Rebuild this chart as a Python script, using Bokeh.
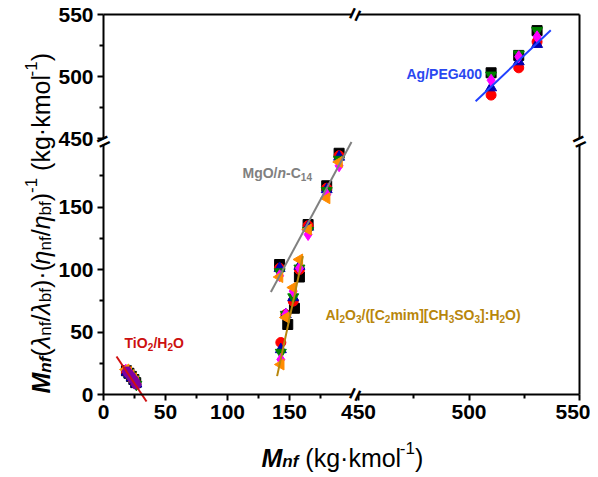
import math
from bokeh.plotting import figure
from bokeh.models import Range1d, LinearAxis, FixedTicker, Label
from bokeh.embed import file_html
from bokeh.resources import INLINE

# ---------------- axis segments and ticks ----------------
x_lo_seg = (0, 200)
x_hi_seg = (450, 550)
y_lo_seg = (0, 200)
y_hi_seg = (450, 550)
x_lo_ticks = [0, 50, 100, 150]
x_lo_minor = [25, 75, 125, 175]
x_hi_ticks = [450, 500, 550]
x_hi_minor = [475, 525]
y_lo_ticks = [0, 50, 100, 150]
y_lo_minor = [25, 75, 125, 175]
y_hi_ticks = [450, 500, 550]
y_hi_minor = [475, 525]

# ---------------- data ----------------
# TiO2/H2O
tio2_sq_x = [18.5, 20.5, 22.5, 24.5, 26.0]
tio2_sq_y = [19.0, 17.0, 14.5, 12.0, 9.5]
tio2_ci_x = [18.5, 20.5, 22.5, 24.5, 26.0]
tio2_ci_y = [18.5, 16.5, 14.0, 11.5, 9.0]
tio2_tu_x = [19.0, 21.0, 23.0, 25.0, 26.5]
tio2_tu_y = [18.0, 16.0, 13.5, 11.0, 8.5]
tio2_td_x = [19.0, 21.0, 23.0, 25.0, 26.5]
tio2_td_y = [17.5, 15.5, 13.0, 10.5, 8.0]
tio2_di_x = [18.0, 20.0, 22.0, 24.0, 25.5]
tio2_di_y = [19.5, 17.5, 15.0, 12.5, 10.0]
tio2_tl_x = [18.0, 20.0, 22.0, 24.0, 25.5]
tio2_tl_y = [20.0, 18.0, 15.5, 13.0, 10.5]
tio2_pu_x = [19.0, 21.0, 23.0, 25.0, 26.5]
tio2_pu_y = [18.5, 16.0, 13.5, 11.0, 8.0]
tio2_fit_x = [10.5, 34.7]
tio2_fit_y = [30.4, -5.6]

# MgO/n-C14
mgo_x = [142, 165, 180, 190]
mgo_sq_y = [104, 136, 167, 193]
mgo_ci_y = [101, 135, 165, 191]
mgo_tu_y = [101, 134, 164, 190]
mgo_td_y = [98, 131, 163, 188]
mgo_di_y = [95, 128, 160, 183]
mgo_tl_y = [94, 132, 157, 186]
mgo_fit_x = [135, 200]
mgo_fit_y = [82, 202]

# Al2O3/([C2mim][CH3SO3]:H2O)
al_sq_x = [148.6, 154.0, 158.0]
al_sq_y = [56.0, 69.0, 94.0]
al_x = [143, 147, 153, 158]
al_ci_y = [41.6, 64.0, 74.7, 100.0]
al_tu_y = [36.0, 64.0, 77.6, 102.7]
al_td_y = [33.6, 64.0, 78.0, 101.0]
al_di_y = [28.0, 64.0, 82.7, 101.0]
al_tl_y = [24.0, 61.6, 85.6, 108.0]
al_fit_x = [140.0, 160.8]
al_fit_y = [14.7, 110.7]

# Ag/PEG400
ag_x = [510.0, 522.5, 530.8]
ag_sq_y = [503, 517, 537]
ag_ci_y = [485, 507, 528]
ag_tu_y = [491, 512, 526]
ag_td_y = [501, 518, 537]
ag_di_y = [497, 516, 532]
ag_fit_x = [503.0, 537.0]
ag_fit_y = [480.0, 537.3]

# ---------------- layout (pixels in the page) ----------------
OX, OY = 1, 1            # where the canvas lands in the picture
W, H = 590, 474          # canvas size; the frame fills the whole canvas
PX_X0, PX_X200 = 104, 352   # x = 0 and x = 200
PX_X450, PX_X550 = 359, 580
PX_Y0, PX_Y200 = 395, 145
PX_Y450, PX_Y550 = 139, 15


def lin_range(v0, p0, v1, p1, pa, pb):
    k = (v1 - v0) / (p1 - p0)
    return Range1d(v0 + (pa - p0) * k, v0 + (pb - p0) * k)


x_rng = lin_range(0, PX_X0, 200, PX_X200, OX, OX + W)
xhi_rng = lin_range(450, PX_X450, 550, PX_X550, OX, OX + W)
y_rng = lin_range(0, PX_Y0, 200, PX_Y200, OY + H, OY)
yhi_rng = lin_range(450, PX_Y450, 550, PX_Y550, OY + H, OY)

p = figure(width=W, height=H, x_range=x_rng, y_range=y_rng,
           x_axis_type=None, y_axis_type=None,
           toolbar_location=None, output_backend="svg",
           min_border=0, min_border_left=0, min_border_right=0,
           min_border_top=0, min_border_bottom=0,
           outline_line_color=None, background_fill_color="white",
           border_fill_color="white")
p.extra_x_ranges = {"xhi": xhi_rng}
p.extra_y_ranges = {"yhi": yhi_rng}

FONT = "Liberation Sans"


def style_axis(ax, labels=True):
    ax.axis_line_width = 2
    ax.axis_line_color = "black"
    ax.major_tick_line_width = 2
    ax.minor_tick_line_width = 2
    ax.major_tick_in = 0
    ax.minor_tick_in = 0
    ax.major_tick_out = 6
    ax.minor_tick_out = 4
    ax.major_label_text_font = FONT
    ax.major_label_text_font_style = "bold"
    ax.major_label_text_font_size = "21px"
    ax.major_label_text_color = "black"
    ax.major_label_standoff = 4
    if not labels:
        ax.major_tick_line_color = None
        ax.minor_tick_line_color = None
        ax.major_label_text_font_size = "0px"


def add_axis(side, bounds, ticks, minor, fixed, labels=True, **names):
    ax = LinearAxis(ticker=FixedTicker(ticks=ticks, minor_ticks=minor),
                    bounds=bounds, fixed_location=fixed, **names)
    style_axis(ax, labels)
    p.add_layout(ax, side)


# bottom (at y = 0) and left (at x = 0)
add_axis("below", x_lo_seg, x_lo_ticks, x_lo_minor, 0)
add_axis("below", x_hi_seg, x_hi_ticks, x_hi_minor, 0, x_range_name="xhi")
add_axis("left", y_lo_seg, y_lo_ticks, y_lo_minor, 0)
add_axis("left", y_hi_seg, y_hi_ticks, y_hi_minor, 0, y_range_name="yhi")
# top (at y = 550) and right (at x = 550), line only
add_axis("above", x_lo_seg, [], [], 550, False, y_range_name="yhi")
add_axis("above", x_hi_seg, [], [], 550, False, x_range_name="xhi", y_range_name="yhi")
add_axis("right", y_lo_seg, [], [], 550, False, x_range_name="xhi")
add_axis("right", y_hi_seg, [], [], 550, False, x_range_name="xhi", y_range_name="yhi")

# ---------------- markers ----------------
C_SQ, C_CI, C_TU, C_TD, C_DI, C_TL, C_PU = ("black", "#ff0000", "#0000b0", "#008000",
                                             "#ff00ff", "#ff8c00", "#8000a0")
SZ = 10


def pts(xs, ys, marker, color, hi=False, angle=0.0, size=SZ):
    kw = dict(x_range_name="xhi", y_range_name="yhi") if hi else {}
    p.scatter(xs, ys, marker=marker, size=size, fill_color=color, line_color=color,
              angle=angle, **kw)


TL = math.pi / 2
# TiO2
pts(tio2_sq_x, tio2_sq_y, "square", C_SQ)
pts(tio2_ci_x, tio2_ci_y, "circle", C_CI)
pts(tio2_tu_x, tio2_tu_y, "triangle", C_TU, size=11)
pts(tio2_td_x, tio2_td_y, "inverted_triangle", C_TD, size=11)
pts(tio2_di_x, tio2_di_y, "diamond", C_DI, size=12)
pts(tio2_tl_x, tio2_tl_y, "triangle", C_TL, angle=TL, size=11)
pts(tio2_pu_x, tio2_pu_y, "hex", C_PU)
# MgO
pts(mgo_x, mgo_sq_y, "square", C_SQ)
pts(mgo_x, mgo_ci_y, "circle", C_CI)
pts(mgo_x, mgo_tu_y, "triangle", C_TU, size=11)
pts(mgo_x, mgo_td_y, "inverted_triangle", C_TD, size=11)
pts(mgo_x, mgo_di_y, "diamond", C_DI, size=12)
pts(mgo_x, mgo_tl_y, "triangle", C_TL, angle=TL, size=11)
# Al2O3
pts(al_sq_x, al_sq_y, "square", C_SQ)
pts(al_x, al_ci_y, "circle", C_CI)
pts(al_x, al_tu_y, "triangle", C_TU, size=11)
pts(al_x, al_td_y, "inverted_triangle", C_TD, size=11)
pts(al_x, al_di_y, "diamond", C_DI, size=12)
pts(al_x, al_tl_y, "triangle", C_TL, angle=TL, size=11)
# Ag
pts(ag_x, ag_sq_y, "square", C_SQ, hi=True)
pts(ag_x, ag_ci_y, "circle", C_CI, hi=True)
pts(ag_x, ag_tu_y, "triangle", C_TU, hi=True, size=11)
pts(ag_x, ag_td_y, "inverted_triangle", C_TD, hi=True, size=11)
pts(ag_x, ag_di_y, "diamond", C_DI, hi=True, size=12)

# fit lines
p.line(tio2_fit_x, tio2_fit_y, line_color="#d01010", line_width=2)
p.line(mgo_fit_x, mgo_fit_y, line_color="#808080", line_width=2)
p.line(al_fit_x, al_fit_y, line_color="#b8860b", line_width=2)
p.line(ag_fit_x, ag_fit_y, line_color="#2040ff", line_width=2,
       x_range_name="xhi", y_range_name="yhi")

# ---------------- rich text helper ----------------
REG = {" ": .278, "(": .333, ")": .333, "/": .278, "·": .278, "-": .333, ":": .278,
       "[": .278, "]": .278, "k": .5, "g": .556, "m": .833, "o": .556, "l": .222,
       "n": .556, "f": .278, "b": .556, "1": .556, "λ": .5, "η": .556}
BOLD = {" ": .278, "(": .333, ")": .333, "/": .278, "-": .333, ":": .333, "[": .333,
        "]": .333, "M": .833, "g": .611, "O": .778, "n": .611, "C": .722, "A": .722,
        "P": .667, "E": .667, "G": .778, "T": .611, "i": .278, "H": .722, "l": .278,
        "m": .889, "S": .667, "f": .333}


def width(txt, size, style):
    tab = BOLD if "bold" in style else REG
    return sum(tab.get(c, .556) for c in txt) * size


def scr(px, py):
    return px - OX, (OY + H) - py


def rich(runs, page_x, page_y, angle=0.0, color="black"):
    x, y = scr(page_x, page_y)
    ca, sa = math.cos(angle), math.sin(angle)
    adv = 0.0
    for txt, size, style, dy in runs:
        lead = len(txt) - len(txt.lstrip(" "))
        adv += width(" " * lead, size, style)
        txt = txt.lstrip(" ")
        lx = x + adv * ca - dy * sa
        ly = y + adv * sa + dy * ca
        p.add_layout(Label(x=lx, y=ly, x_units="screen", y_units="screen", text=txt,
                           angle=angle, text_font=FONT, text_font_size=f"{size}px",
                           text_font_style=style, text_color=color,
                           text_align="left", text_baseline="alphabetic"))
        adv += width(txt, size, style)


# axis titles
B, S = 25, 17
rich([("M", B, "bold italic", 0), ("nf", S, "bold italic", -4),
      (" (kg·kmol", B, "normal", 0), ("-1", S, "normal", 10), (")", B, "normal", 0)],
     262, 458)
rich([("M", B, "bold italic", 0), ("nf", S, "bold italic", -5),
      ("(", B, "normal", 0), ("λ", B, "italic", 0), ("nf", S, "normal", -5),
      ("/", B, "normal", 0), ("λ", B, "italic", 0), ("bf", S, "normal", -5),
      (")·(", B, "normal", 0), ("η", B, "italic", 0), ("nf", S, "normal", -5),
      ("/", B, "normal", 0), ("η", B, "italic", 0), ("bf", S, "normal", -5),
      (")", B, "normal", 0), ("-1", S, "normal", 10),
      (" (kg·kmol", B, "normal", 0), ("-1", S, "normal", 10), (")", B, "normal", 0)],
     41, 394, angle=math.pi / 2)

# series annotations
L, LS = 14, 10
rich([("TiO", L, "bold", 0), ("2", LS, "bold", -4), ("/H", L, "bold", 0),
      ("2", LS, "bold", -4), ("O", L, "bold", 0)], 125, 343, color="#cc1010")
rich([("MgO/", L, "bold", 0), ("n", L, "bold italic", 0), ("-C", L, "bold", 0),
      ("14", LS, "bold", -4)], 243, 173, color="#808080")
rich([("Ag/PEG400", L, "bold", 0)], 407, 74, color="#2a48f0")
rich([("Al", L, "bold", 0), ("2", LS, "bold", -4), ("O", L, "bold", 0),
      ("3", LS, "bold", -4), ("/([C", L, "bold", 0), ("2", LS, "bold", -4),
      ("mim][CH", L, "bold", 0), ("3", LS, "bold", -4), ("SO", L, "bold", 0),
      ("3", LS, "bold", -4), ("]:H", L, "bold", 0), ("2", LS, "bold", -4),
      ("O)", L, "bold", 0)], 326, 315, color="#b8860b")

# axis break marks
for bx, by, ang in [(355.5, PX_Y0, 65), (355.5, PX_Y550, 65),
                    (PX_X0, 142, 25), (PX_X550, 142, 25)]:
    sx, sy = scr(bx, by)
    p.add_layout(Label(x=sx, y=sy, x_units="screen", y_units="screen", text="=",
                       angle=math.radians(ang), text_font=FONT, text_font_size="22px",
                       text_font_style="bold", text_color="black",
                       text_align="center", text_baseline="middle"))

open("out.html", "w").write(file_html(p, INLINE))
